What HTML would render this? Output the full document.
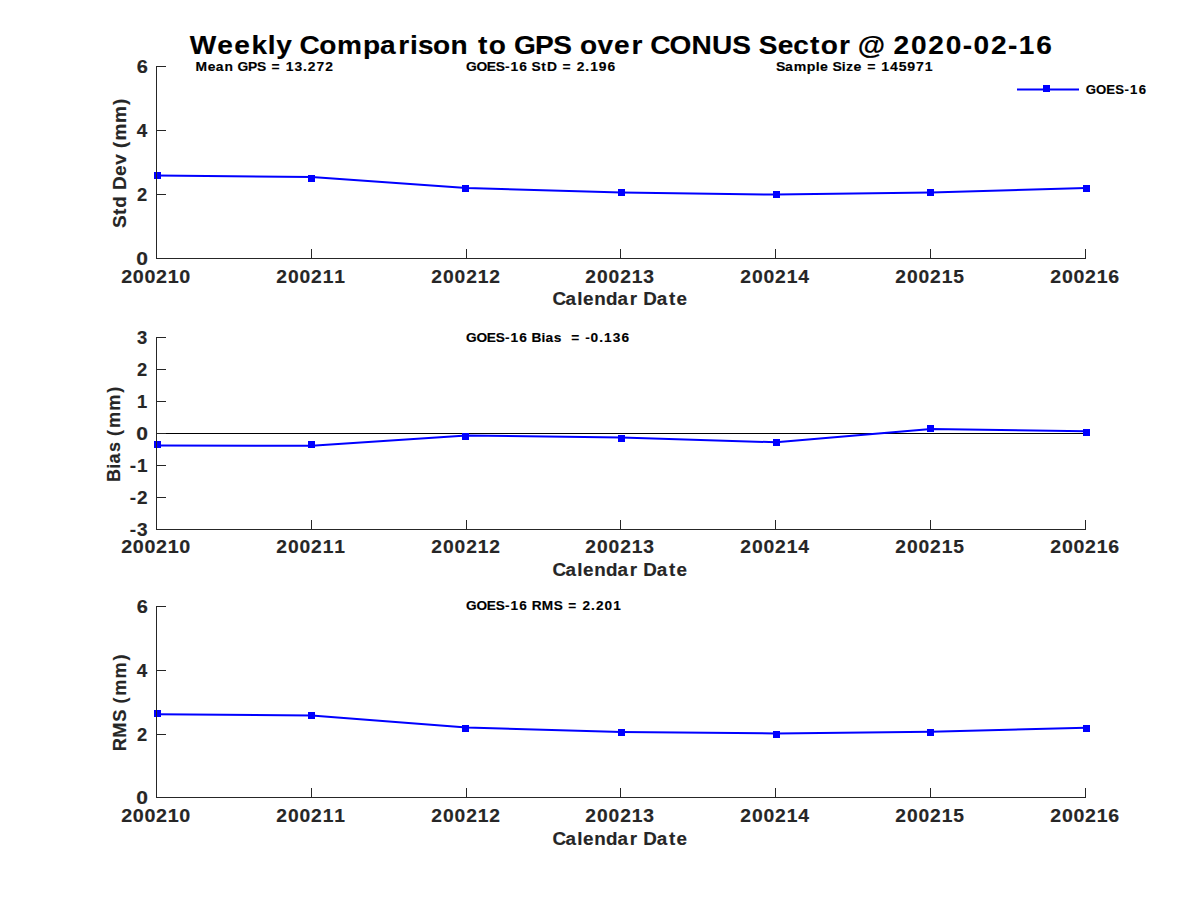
<!DOCTYPE html>
<html><head><meta charset="utf-8"><style>
html,body{margin:0;padding:0;background:#fff;}
svg{display:block;}
text{font-family:"Liberation Sans", sans-serif;font-weight:bold;font-kerning:none;white-space:pre;}
</style></head><body>
<svg width="1200" height="900" viewBox="0 0 1200 900">
<rect width="1200" height="900" fill="#fff"/>
<polyline points="156.8,175.6 311.6,177.1 466.5,187.9 621.3,192.6 776.1,194.6 931.0,192.4 1085.8,188.0" fill="none" stroke="#0000ff" stroke-width="2" stroke-linejoin="round"/>
<rect x="154" y="172" width="7" height="7" fill="#0000ff"/>
<rect x="308" y="175" width="7" height="7" fill="#0000ff"/>
<rect x="462" y="185" width="7" height="7" fill="#0000ff"/>
<rect x="618" y="189" width="7" height="7" fill="#0000ff"/>
<rect x="773" y="191" width="7" height="7" fill="#0000ff"/>
<rect x="927" y="189" width="7" height="7" fill="#0000ff"/>
<rect x="1083" y="185" width="7" height="7" fill="#0000ff"/>
<line x1="156.5" y1="66" x2="156.5" y2="259" stroke="#262626" stroke-width="1"/>
<line x1="156" y1="258.5" x2="1086" y2="258.5" stroke="#262626" stroke-width="1"/>
<line x1="156.5" y1="249" x2="156.5" y2="258.5" stroke="#262626" stroke-width="1"/>
<line x1="311.5" y1="249" x2="311.5" y2="258.5" stroke="#262626" stroke-width="1"/>
<line x1="466.5" y1="249" x2="466.5" y2="258.5" stroke="#262626" stroke-width="1"/>
<line x1="620.5" y1="249" x2="620.5" y2="258.5" stroke="#262626" stroke-width="1"/>
<line x1="775.5" y1="249" x2="775.5" y2="258.5" stroke="#262626" stroke-width="1"/>
<line x1="930.5" y1="249" x2="930.5" y2="258.5" stroke="#262626" stroke-width="1"/>
<line x1="1085.5" y1="249" x2="1085.5" y2="258.5" stroke="#262626" stroke-width="1"/>
<line x1="156" y1="66.5" x2="166" y2="66.5" stroke="#262626" stroke-width="1"/>
<line x1="156" y1="130.5" x2="166" y2="130.5" stroke="#262626" stroke-width="1"/>
<line x1="156" y1="194.5" x2="166" y2="194.5" stroke="#262626" stroke-width="1"/>
<line x1="156" y1="258.5" x2="166" y2="258.5" stroke="#262626" stroke-width="1"/>
<text transform="translate(136.401,73.000) scale(1.1325,1)" x="0.27" y="0" font-size="17.664" fill="#262626" stroke="#262626" stroke-width="0.15">6</text>
<text transform="translate(136.401,137.000) scale(1.0659,1)" x="0.44" y="0" font-size="17.664" fill="#262626" stroke="#262626" stroke-width="0.15">4</text>
<text transform="translate(136.401,201.000) scale(1.0385,1)" x="0.66" y="0" font-size="17.664" fill="#262626" stroke="#262626" stroke-width="0.15">2</text>
<text transform="translate(136.401,265.000) scale(1.1908,1)" x="-0.03" y="0" font-size="17.664" fill="#262626" stroke="#262626" stroke-width="0.15">0</text>
<text transform="translate(120.903,282.800) scale(1.1153,1)" x="0.28 10.70 21.10 31.48 41.91 52.30" y="0" font-size="17.664" fill="#262626" stroke="#262626" stroke-width="0.15">200210</text>
<text transform="translate(275.903,282.800) scale(1.0908,1)" x="0.39 11.05 21.68 32.29 42.96 53.60" y="0" font-size="17.664" fill="#262626" stroke="#262626" stroke-width="0.15">200211</text>
<text transform="translate(430.903,282.800) scale(1.0898,1)" x="0.40 11.07 21.71 32.33 43.01 53.61" y="0" font-size="17.664" fill="#262626" stroke="#262626" stroke-width="0.15">200212</text>
<text transform="translate(584.903,282.800) scale(1.0903,1)" x="0.39 11.06 21.70 32.31 42.99 53.62" y="0" font-size="17.664" fill="#262626" stroke="#262626" stroke-width="0.15">200213</text>
<text transform="translate(739.903,282.800) scale(1.0939,1)" x="0.38 11.01 21.61 32.19 42.83 53.31" y="0" font-size="17.664" fill="#262626" stroke="#262626" stroke-width="0.15">200214</text>
<text transform="translate(894.903,282.800) scale(1.0900,1)" x="0.40 11.06 21.70 32.32 43.00 53.65" y="0" font-size="17.664" fill="#262626" stroke="#262626" stroke-width="0.15">200215</text>
<text transform="translate(1049.903,282.800) scale(1.1057,1)" x="0.32 10.84 21.33 31.79 42.32 52.84" y="0" font-size="17.664" fill="#262626" stroke="#262626" stroke-width="0.15">200216</text>
<text transform="translate(553.531,304.800) scale(1.0667,1)" x="-0.87 11.24 22.25 27.67 38.15 49.21 60.05 71.43 78.54 84.17 96.72 108.21 115.27" y="0" font-size="17.664" fill="#262626" stroke="#262626" stroke-width="0.15">Calendar Date</text>
<text transform="translate(125.700,227.851) rotate(-90) scale(1.0719,1)" x="-0.21 11.90 18.72 29.77 35.35 48.37 58.80 68.78 74.42 81.55 97.75 114.71" y="0" font-size="17.664" fill="#262626" stroke="#262626" stroke-width="0.15">Std Dev (mm)</text>
<line x1="156" y1="433.5" x2="1086" y2="433.5" stroke="#000" stroke-width="1"/>
<polyline points="156.8,445.5 311.6,445.7 466.5,435.5 621.3,437.6 776.1,442.3 931.0,429.0 1085.8,431.2" fill="none" stroke="#0000ff" stroke-width="2" stroke-linejoin="round"/>
<rect x="154" y="441" width="7" height="7" fill="#0000ff"/>
<rect x="308" y="441" width="7" height="7" fill="#0000ff"/>
<rect x="462" y="433" width="7" height="7" fill="#0000ff"/>
<rect x="618" y="435" width="7" height="7" fill="#0000ff"/>
<rect x="773" y="439" width="7" height="7" fill="#0000ff"/>
<rect x="927" y="425" width="7" height="7" fill="#0000ff"/>
<rect x="1083" y="429" width="7" height="7" fill="#0000ff"/>
<line x1="156.5" y1="337" x2="156.5" y2="530" stroke="#262626" stroke-width="1"/>
<line x1="156" y1="529.5" x2="1086" y2="529.5" stroke="#262626" stroke-width="1"/>
<line x1="156.5" y1="520" x2="156.5" y2="529.5" stroke="#262626" stroke-width="1"/>
<line x1="311.5" y1="520" x2="311.5" y2="529.5" stroke="#262626" stroke-width="1"/>
<line x1="466.5" y1="520" x2="466.5" y2="529.5" stroke="#262626" stroke-width="1"/>
<line x1="620.5" y1="520" x2="620.5" y2="529.5" stroke="#262626" stroke-width="1"/>
<line x1="775.5" y1="520" x2="775.5" y2="529.5" stroke="#262626" stroke-width="1"/>
<line x1="930.5" y1="520" x2="930.5" y2="529.5" stroke="#262626" stroke-width="1"/>
<line x1="1085.5" y1="520" x2="1085.5" y2="529.5" stroke="#262626" stroke-width="1"/>
<line x1="156" y1="337.5" x2="166" y2="337.5" stroke="#262626" stroke-width="1"/>
<line x1="156" y1="369.5" x2="166" y2="369.5" stroke="#262626" stroke-width="1"/>
<line x1="156" y1="401.5" x2="166" y2="401.5" stroke="#262626" stroke-width="1"/>
<line x1="156" y1="433.5" x2="166" y2="433.5" stroke="#262626" stroke-width="1"/>
<line x1="156" y1="465.5" x2="166" y2="465.5" stroke="#262626" stroke-width="1"/>
<line x1="156" y1="497.5" x2="166" y2="497.5" stroke="#262626" stroke-width="1"/>
<line x1="156" y1="529.5" x2="166" y2="529.5" stroke="#262626" stroke-width="1"/>
<text transform="translate(136.401,344.000) scale(1.0429,1)" x="0.66" y="0" font-size="17.664" fill="#262626" stroke="#262626" stroke-width="0.15">3</text>
<text transform="translate(136.401,376.000) scale(1.0385,1)" x="0.66" y="0" font-size="17.664" fill="#262626" stroke="#262626" stroke-width="0.15">2</text>
<text transform="translate(136.401,408.000) scale(1.0428,1)" x="0.69" y="0" font-size="17.664" fill="#262626" stroke="#262626" stroke-width="0.15">1</text>
<text transform="translate(136.401,440.000) scale(1.1908,1)" x="-0.03" y="0" font-size="17.664" fill="#262626" stroke="#262626" stroke-width="0.15">0</text>
<text transform="translate(129.482,472.000) scale(1.0770,1)" x="0.28 6.93" y="0" font-size="17.664" fill="#262626" stroke="#262626" stroke-width="0.15">-1</text>
<text transform="translate(129.482,504.000) scale(1.0735,1)" x="0.29 6.92" y="0" font-size="17.664" fill="#262626" stroke="#262626" stroke-width="0.15">-2</text>
<text transform="translate(129.482,536.000) scale(1.0757,1)" x="0.28 6.93" y="0" font-size="17.664" fill="#262626" stroke="#262626" stroke-width="0.15">-3</text>
<text transform="translate(120.903,552.800) scale(1.1153,1)" x="0.28 10.70 21.10 31.48 41.91 52.30" y="0" font-size="17.664" fill="#262626" stroke="#262626" stroke-width="0.15">200210</text>
<text transform="translate(275.903,552.800) scale(1.0908,1)" x="0.39 11.05 21.68 32.29 42.96 53.60" y="0" font-size="17.664" fill="#262626" stroke="#262626" stroke-width="0.15">200211</text>
<text transform="translate(430.903,552.800) scale(1.0898,1)" x="0.40 11.07 21.71 32.33 43.01 53.61" y="0" font-size="17.664" fill="#262626" stroke="#262626" stroke-width="0.15">200212</text>
<text transform="translate(584.903,552.800) scale(1.0903,1)" x="0.39 11.06 21.70 32.31 42.99 53.62" y="0" font-size="17.664" fill="#262626" stroke="#262626" stroke-width="0.15">200213</text>
<text transform="translate(739.903,552.800) scale(1.0939,1)" x="0.38 11.01 21.61 32.19 42.83 53.31" y="0" font-size="17.664" fill="#262626" stroke="#262626" stroke-width="0.15">200214</text>
<text transform="translate(894.903,552.800) scale(1.0900,1)" x="0.40 11.06 21.70 32.32 43.00 53.65" y="0" font-size="17.664" fill="#262626" stroke="#262626" stroke-width="0.15">200215</text>
<text transform="translate(1049.903,552.800) scale(1.1057,1)" x="0.32 10.84 21.33 31.79 42.32 52.84" y="0" font-size="17.664" fill="#262626" stroke="#262626" stroke-width="0.15">200216</text>
<text transform="translate(553.531,575.700) scale(1.0667,1)" x="-0.87 11.24 22.25 27.67 38.15 49.21 60.05 71.43 78.54 84.17 96.72 108.21 115.27" y="0" font-size="17.664" fill="#262626" stroke="#262626" stroke-width="0.15">Calendar Date</text>
<text transform="translate(119.700,481.786) rotate(-90) scale(1.0220,1)" x="-0.18 12.78 18.01 29.06 38.74 44.82 52.52 69.51 87.04" y="0" font-size="17.664" fill="#262626" stroke="#262626" stroke-width="0.15">Bias (mm)</text>
<polyline points="156.8,714.2 311.6,715.6 466.5,727.5 621.3,732.1 776.1,733.4 931.0,731.8 1085.8,727.8" fill="none" stroke="#0000ff" stroke-width="2" stroke-linejoin="round"/>
<rect x="154" y="710" width="7" height="7" fill="#0000ff"/>
<rect x="308" y="712" width="7" height="7" fill="#0000ff"/>
<rect x="462" y="725" width="7" height="7" fill="#0000ff"/>
<rect x="618" y="729" width="7" height="7" fill="#0000ff"/>
<rect x="773" y="731" width="7" height="7" fill="#0000ff"/>
<rect x="927" y="729" width="7" height="7" fill="#0000ff"/>
<rect x="1083" y="725" width="7" height="7" fill="#0000ff"/>
<line x1="156.5" y1="606" x2="156.5" y2="798" stroke="#262626" stroke-width="1"/>
<line x1="156" y1="797.5" x2="1086" y2="797.5" stroke="#262626" stroke-width="1"/>
<line x1="156.5" y1="788" x2="156.5" y2="797.5" stroke="#262626" stroke-width="1"/>
<line x1="311.5" y1="788" x2="311.5" y2="797.5" stroke="#262626" stroke-width="1"/>
<line x1="466.5" y1="788" x2="466.5" y2="797.5" stroke="#262626" stroke-width="1"/>
<line x1="620.5" y1="788" x2="620.5" y2="797.5" stroke="#262626" stroke-width="1"/>
<line x1="775.5" y1="788" x2="775.5" y2="797.5" stroke="#262626" stroke-width="1"/>
<line x1="930.5" y1="788" x2="930.5" y2="797.5" stroke="#262626" stroke-width="1"/>
<line x1="1085.5" y1="788" x2="1085.5" y2="797.5" stroke="#262626" stroke-width="1"/>
<line x1="156" y1="606.5" x2="166" y2="606.5" stroke="#262626" stroke-width="1"/>
<line x1="156" y1="670.5" x2="166" y2="670.5" stroke="#262626" stroke-width="1"/>
<line x1="156" y1="734.5" x2="166" y2="734.5" stroke="#262626" stroke-width="1"/>
<line x1="156" y1="797.5" x2="166" y2="797.5" stroke="#262626" stroke-width="1"/>
<text transform="translate(136.401,613.000) scale(1.1325,1)" x="0.27" y="0" font-size="17.664" fill="#262626" stroke="#262626" stroke-width="0.15">6</text>
<text transform="translate(136.401,677.000) scale(1.0659,1)" x="0.44" y="0" font-size="17.664" fill="#262626" stroke="#262626" stroke-width="0.15">4</text>
<text transform="translate(136.401,741.000) scale(1.0385,1)" x="0.66" y="0" font-size="17.664" fill="#262626" stroke="#262626" stroke-width="0.15">2</text>
<text transform="translate(136.401,804.000) scale(1.1908,1)" x="-0.03" y="0" font-size="17.664" fill="#262626" stroke="#262626" stroke-width="0.15">0</text>
<text transform="translate(120.903,821.800) scale(1.1153,1)" x="0.28 10.70 21.10 31.48 41.91 52.30" y="0" font-size="17.664" fill="#262626" stroke="#262626" stroke-width="0.15">200210</text>
<text transform="translate(275.903,821.800) scale(1.0908,1)" x="0.39 11.05 21.68 32.29 42.96 53.60" y="0" font-size="17.664" fill="#262626" stroke="#262626" stroke-width="0.15">200211</text>
<text transform="translate(430.903,821.800) scale(1.0898,1)" x="0.40 11.07 21.71 32.33 43.01 53.61" y="0" font-size="17.664" fill="#262626" stroke="#262626" stroke-width="0.15">200212</text>
<text transform="translate(584.903,821.800) scale(1.0903,1)" x="0.39 11.06 21.70 32.31 42.99 53.62" y="0" font-size="17.664" fill="#262626" stroke="#262626" stroke-width="0.15">200213</text>
<text transform="translate(739.903,821.800) scale(1.0939,1)" x="0.38 11.01 21.61 32.19 42.83 53.31" y="0" font-size="17.664" fill="#262626" stroke="#262626" stroke-width="0.15">200214</text>
<text transform="translate(894.903,821.800) scale(1.0900,1)" x="0.40 11.06 21.70 32.32 43.00 53.65" y="0" font-size="17.664" fill="#262626" stroke="#262626" stroke-width="0.15">200215</text>
<text transform="translate(1049.903,821.800) scale(1.1057,1)" x="0.32 10.84 21.33 31.79 42.32 52.84" y="0" font-size="17.664" fill="#262626" stroke="#262626" stroke-width="0.15">200216</text>
<text transform="translate(553.531,844.600) scale(1.0667,1)" x="-0.87 11.24 22.25 27.67 38.15 49.21 60.05 71.43 78.54 84.17 96.72 108.21 115.27" y="0" font-size="17.664" fill="#262626" stroke="#262626" stroke-width="0.15">Calendar Date</text>
<text transform="translate(125.700,751.206) rotate(-90) scale(1.0297,1)" x="0.03 13.16 28.59 40.24 46.25 53.85 70.72 88.15" y="0" font-size="17.664" fill="#262626" stroke="#262626" stroke-width="0.15">RMS (mm)</text>
<text transform="translate(189.255,53.800) scale(1.0596,1)" x="0.49 26.53 42.53 58.78 74.09 82.03 97.18 104.14 122.72 139.43 163.99 180.09 197.26 208.32 215.82 230.09 246.61 263.08 272.41 282.59 298.78 306.37 326.34 343.43 360.65 368.87 385.40 400.95 417.40 428.08 435.04 453.34 473.98 493.44 512.35 529.56 537.56 555.28 569.99 585.87 596.05 613.19 623.88 630.93 655.68 664.72 681.18 697.55 714.01 730.06 740.22 756.59 772.68 782.87 799.33" y="0" font-size="26.490" fill="#000" stroke="#000" stroke-width="0.15">Weekly Comparison to GPS over CONUS Sector @ 2020-02-16</text>
<text transform="translate(195.053,71.000) scale(1.0468,1)" x="0.42 12.19 19.88 28.25 36.54 40.44 50.55 59.19 67.85 73.14 82.02 86.67 94.96 103.23 107.79 116.04 124.41" y="0" font-size="13.245" fill="#000" stroke="#000" stroke-width="0.15">Mean GPS = 13.272</text>
<text transform="translate(466.277,71.000) scale(1.0452,1)" x="-0.25 9.75 19.58 28.10 37.05 42.24 50.57 58.37 62.48 71.74 77.12 86.79 92.10 100.98 105.61 113.90 118.51 126.75 135.17" y="0" font-size="13.245" fill="#000" stroke="#000" stroke-width="0.15">GOES-16 StD = 2.196</text>
<text transform="translate(776.103,71.000) scale(1.0653,1)" x="-0.13 8.28 16.59 28.81 37.17 41.25 48.97 52.93 61.69 65.59 72.59 80.32 85.45 94.23 98.74 106.81 115.07 123.15 131.31 139.56" y="0" font-size="13.245" fill="#000" stroke="#000" stroke-width="0.15">Sample Size = 145971</text>
<text transform="translate(466.277,341.800) scale(1.0354,1)" x="-0.20 9.89 19.81 28.41 37.42 42.67 51.09 58.93 62.93 72.57 76.41 84.59 91.80 96.00 101.39 110.32 114.83 120.06 128.40 133.07 141.45 149.89" y="0" font-size="13.245" fill="#000" stroke="#000" stroke-width="0.15">GOES-16 Bias  = -0.136</text>
<text transform="translate(466.277,609.800) scale(1.0299,1)" x="-0.18 9.97 19.94 28.58 37.63 42.92 51.38 59.24 63.49 73.33 84.90 93.63 99.07 108.03 112.78 121.17 125.84 134.30 142.77" y="0" font-size="13.245" fill="#000" stroke="#000" stroke-width="0.15">GOES-16 RMS = 2.201</text>
<line x1="1017" y1="89.4" x2="1079" y2="89.4" stroke="#0000ff" stroke-width="2"/>
<rect x="1043" y="85" width="7" height="7" fill="#0000ff"/>
<text transform="translate(1085.677,93.600) scale(0.9966,1)" x="-0.01 10.48 20.76 29.68 38.96 44.49 53.22" y="0" font-size="13.245" fill="#000" stroke="#000" stroke-width="0.15">GOES-16</text>
</svg>
</body></html>
